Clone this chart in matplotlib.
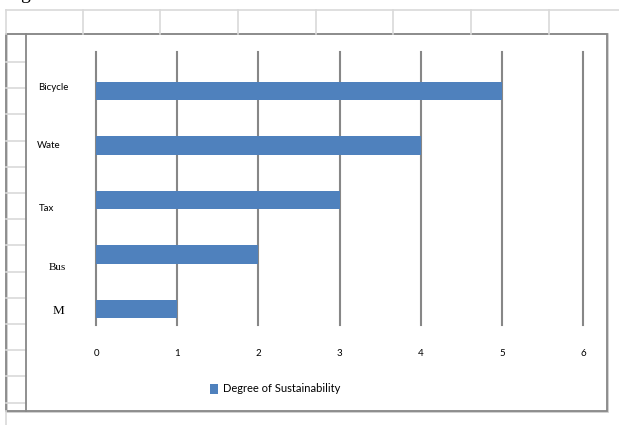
"""
Horizontal bar chart: degree of sustainability per transport mode
"""
import matplotlib
matplotlib.use("Agg")
import matplotlib.pyplot as plt
from matplotlib.lines import Line2D
from matplotlib.patches import Rectangle

W, H = 619, 425

categories = ["M", "Bus", "Tax", "Wate", "Bicycle"]
values = [1, 2, 3, 4, 5]
series_name = "Degree of Sustainability"
x_ticks = [0, 1, 2, 3, 4, 5, 6]

BAR_COLOR = "#4F81BD"
GRID_COLOR = "#878787"
SHEET_COLOR = "#D9D9D9"
SANS = "Lato"

# label placement (pixels) and fonts, copied from the sheet
LABEL_POS = [(53, 311), (49, 267), (39, 208), (37, 146), (38, 87)]
LABEL_FONT = [("Liberation Serif", 9.5), ("Liberation Serif", 8),
              (SANS, 7), (SANS, 7), (SANS, 7)]


def fx(px):
    return px / W


def fy(py):
    return 1 - py / H


def line(fig, x0, y0, x1, y1, color, lw):
    fig.add_artist(Line2D([fx(x0), fx(x1)], [fy(y0), fy(y1)], color=color, lw=lw))


fig = plt.figure(figsize=(W / 100, H / 100), dpi=100)

# spreadsheet cells behind the chart
line(fig, 6, 10, W, 10, SHEET_COLOR, 1.2)
line(fig, 6, 10, 6, 34, SHEET_COLOR, 1.2)
for xc in [83, 160, 238, 316, 393, 471, 549]:
    line(fig, xc, 10, xc, 34, SHEET_COLOR, 1.2)
for k in range(14):
    yr = 62 + 26.2 * k
    line(fig, 6, yr, 26, yr, SHEET_COLOR, 1.2)
line(fig, 6, 411, 6, H, SHEET_COLOR, 1.2)
fig.text(fx(20), fy(-1), "g", fontsize=14, family="Liberation Serif", va="baseline")

# chart frame
fig.add_artist(Rectangle((fx(7), fy(412)), fx(601), 378 / H, fill=False,
                         edgecolor="#C8C8C8", lw=1.2))
fig.add_artist(Rectangle((fx(6), fy(411)), fx(601), 377 / H, fill=False,
                         edgecolor=GRID_COLOR, lw=1.3))
line(fig, 26, 34, 26, 411, GRID_COLOR, 1.3)

ax = fig.add_axes([fx(96), fy(325), (583 - 96) / W, (325 - 52) / H])
ax.set_facecolor("none")
pos = list(range(len(categories)))
bars = ax.barh(pos, values, height=0.34, color=BAR_COLOR, zorder=3,
               label=series_name)
ax.set_xlim(0, 6)
ax.set_ylim(-0.29, 4.72)
ax.set_xticks(x_ticks)
ax.set_xticklabels([str(t) for t in x_ticks], fontsize=7, family=SANS)
ax.tick_params(axis="x", length=0, pad=17.5)
ax.set_yticks([])
ax.xaxis.grid(True, color=GRID_COLOR, lw=1.5, zorder=0)
for gl in ax.get_xgridlines():
    gl.set_clip_on(False)
for s in ax.spines.values():
    s.set_visible(False)

for cat, (lx, ly), (fam, size) in zip(categories, LABEL_POS, LABEL_FONT):
    fig.text(fx(lx), fy(ly), cat, fontsize=size, family=fam, ha="left", va="center")

fig.legend(handles=[bars], labels=[series_name], loc="center left",
           bbox_to_anchor=(fx(204), fy(389)), frameon=False,
           prop={"family": SANS, "size": 8},
           handlelength=0.75, handleheight=1.0, handletextpad=0.45, borderpad=0)

fig.savefig("out.png", dpi=100)
